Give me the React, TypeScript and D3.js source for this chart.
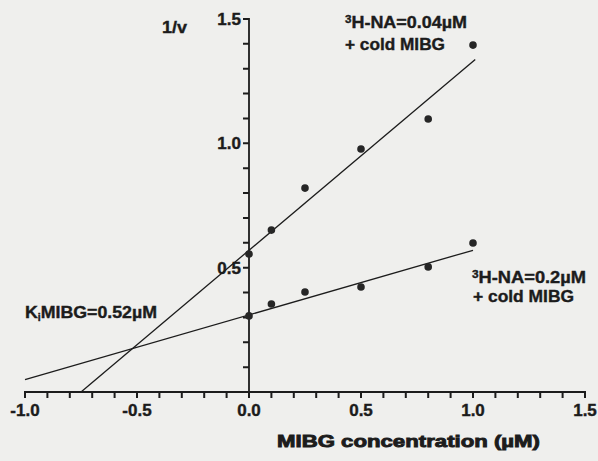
import React, { useEffect, useRef } from "react";
import * as d3 from "d3";

// MIBG concentration (uM) used in both experiments
const concentrations = [0, 0.1, 0.25, 0.5, 0.8, 1.0];
// 1/v with 3H-NA = 0.04 uM + cold MIBG
const invV_na004 = [0.555, 0.651, 0.82, 0.977, 1.098, 1.395];
// 1/v with 3H-NA = 0.2 uM + cold MIBG
const invV_na02 = [0.306, 0.354, 0.402, 0.422, 0.503, 0.599];

// fitted regression lines (slope, intercept, x start, x end)
const fitSlopes = [0.76, 0.26];
const fitIntercepts = [0.57, 0.31];
const fitStarts = [-0.75, -1.0];
const fitEnds = [1.01, 1.0];

const xMajorTicks = [-1.0, -0.5, 0.0, 0.5, 1.0, 1.5];
const yMajorTicks = [0.5, 1.0, 1.5];
const xMinorTicks = d3.range(-10, 16).map(d => d / 10);
const yMinorTicks = d3.range(1, 16).map(d => d / 10);

const width = 598;
const height = 461;
const ink = "#1c1c1c";
const font = "'Liberation Sans', Arial, Helvetica, sans-serif";

function App() {
    const ref = useRef<SVGSVGElement>(null);

    useEffect(() => {
        document.body.style.margin = "0";
        drawChart();
    }, []);

    const drawChart = () => {
        const svg = d3.select(ref.current);
        svg.selectAll("*").remove();

        svg.append("rect")
            .attr("width", width)
            .attr("height", height)
            .attr("fill", "#efefed");

        const xScale = d3.scaleLinear().domain([-1.0, 1.5]).range([25, 585]);
        const yScale = d3.scaleLinear().domain([0, 1.5]).range([392, 19]);
        const x0 = xScale(0);
        const y0 = yScale(0);

        // plain hyphen for negatives, as in the original print
        const fmt = (d: number) => d3.format(".1f")(d).replace("\u2212", "-");

        // axis lines
        svg.append("path")
            .attr("fill", "none")
            .attr("stroke", ink)
            .attr("stroke-width", 1.8)
            .attr("d", `M${xScale(-1.0) - 1},${y0}H${xScale(1.5) + 1}M${x0},${y0 + 1}V${yScale(1.5) - 1}`);

        // ticks every 0.1: down on the x axis, left on the y axis
        const tickPath =
            xMinorTicks.map(d => `M${xScale(d)},${y0}v6`).join("") +
            yMinorTicks.map(d => `M${x0},${yScale(d)}h-6`).join("");
        svg.append("path")
            .attr("fill", "none")
            .attr("stroke", ink)
            .attr("stroke-width", 2)
            .attr("d", tickPath);

        const tickText = svg.append("g")
            .attr("fill", ink)
            .attr("stroke", ink)
            .attr("stroke-width", 0.4)
            .attr("font-family", font)
            .attr("font-weight", "bold")
            .attr("font-size", 17);

        tickText.selectAll("text.xl")
            .data(xMajorTicks)
            .join("text")
            .attr("class", "xl")
            .attr("x", d => xScale(d))
            .attr("y", y0 + 24)
            .attr("text-anchor", "middle")
            .text(fmt);

        tickText.selectAll("text.yl")
            .data(yMajorTicks)
            .join("text")
            .attr("class", "yl")
            .attr("x", x0 - 8)
            .attr("y", d => yScale(d) + 6)
            .attr("text-anchor", "end")
            .text(fmt);

        // fitted lines
        const line = d3.line<[number, number]>()
            .x(d => xScale(d[0]))
            .y(d => yScale(d[1]));

        fitSlopes.forEach((slope, i) => {
            const pts: [number, number][] = [fitStarts[i], fitEnds[i]].map(x => [x, fitIntercepts[i] + slope * x]);
            svg.append("path")
                .datum(pts)
                .attr("fill", "none")
                .attr("stroke", ink)
                .attr("stroke-width", 1.3)
                .attr("d", line);
        });

        // data points
        [invV_na004, invV_na02].forEach(series => {
            svg.append("g")
                .selectAll("circle")
                .data(series)
                .join("circle")
                .attr("cx", (_, i) => xScale(concentrations[i]))
                .attr("cy", d => yScale(d))
                .attr("r", 3.8)
                .attr("fill", "#262626");
        });

        // labels
        const label = (x: number, y: number, len: number) =>
            svg.append("text")
                .attr("x", x)
                .attr("y", y)
                .attr("fill", ink)
                .attr("stroke", ink)
                .attr("stroke-width", 0.4)
                .attr("font-family", font)
                .attr("font-weight", "bold")
                .attr("font-size", 17)
                .attr("textLength", len)
                .attr("lengthAdjust", "spacingAndGlyphs");

        label(162, 33, 25).text("1/v");

        const l1 = label(345, 28, 122);
        l1.append("tspan").attr("font-size", 11).attr("dy", -5).text("3");
        l1.append("tspan").attr("dy", 5).text("H-NA=0.04\u00b5M");
        label(345, 50, 100).text("+ cold MIBG");

        const l2 = label(472, 283, 114);
        l2.append("tspan").attr("font-size", 11).attr("dy", -5).text("3");
        l2.append("tspan").attr("dy", 5).text("H-NA=0.2\u00b5M");
        label(473, 302, 101).text("+ cold MIBG");

        const ki = label(25, 318, 132);
        ki.append("tspan").text("K");
        ki.append("tspan").attr("font-size", 10).attr("dy", 3).text("i");
        ki.append("tspan").attr("dy", -3).text("MIBG=0.52\u00b5M");

        svg.append("text")
            .attr("x", 277)
            .attr("y", 447)
            .attr("fill", ink)
            .attr("stroke", ink)
            .attr("stroke-width", 0.9)
            .attr("font-family", font)
            .attr("font-weight", "bold")
            .attr("font-size", 17)
            .attr("textLength", 263)
            .attr("lengthAdjust", "spacingAndGlyphs")
            .text("MIBG concentration (\u00b5M)");
    };

    return (
        <svg
            ref={ref}
            width={width}
            height={height}
            style={{ position: "absolute", left: 0, top: 0, display: "block" }}
        />
    );
}

export default App;
